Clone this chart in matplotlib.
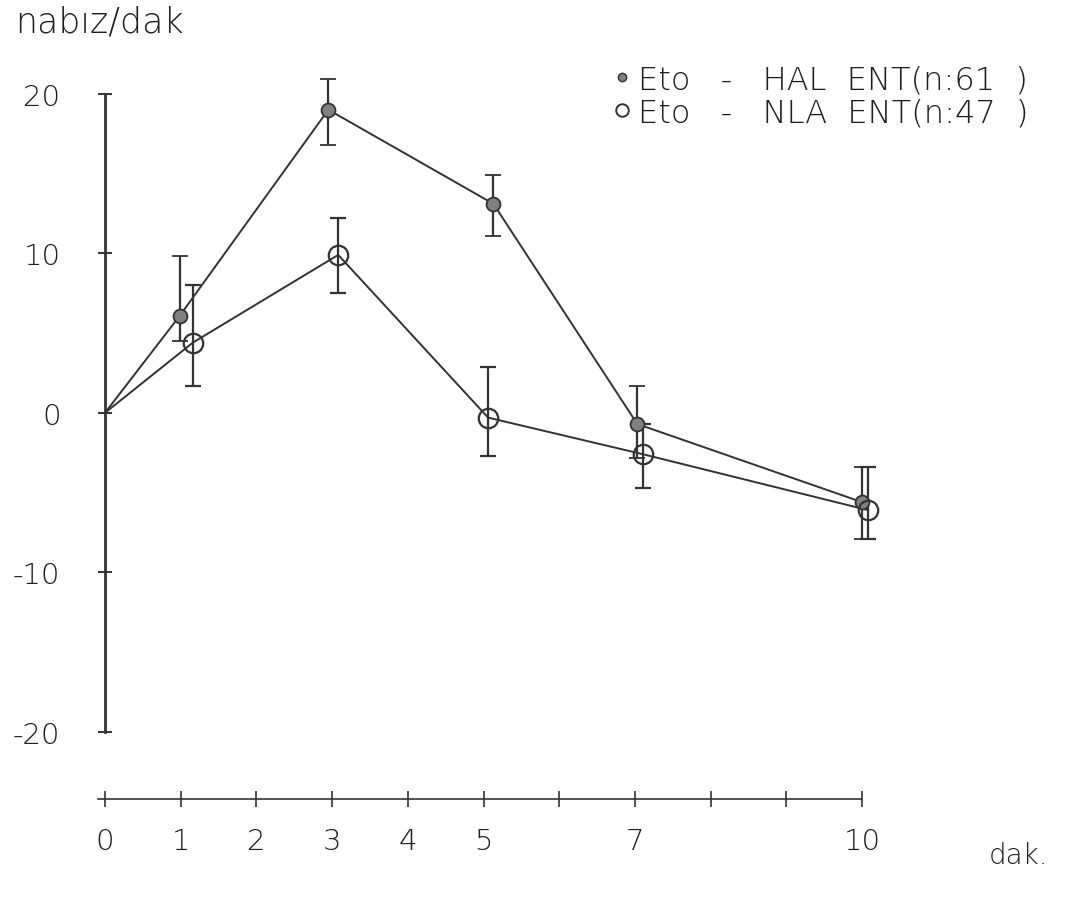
import matplotlib
matplotlib.use("Agg")
import matplotlib.pyplot as plt
from matplotlib.lines import Line2D

# ---- data ----
hal_x = [0, 0.99, 2.95, 5.13, 7.03, 10.0]
hal_y = [0, 6.1, 19.0, 13.1, -0.7, -5.6]
hal_err_low = [0, 1.6, 2.2, 2.0, 2.1, 2.3]
hal_err_high = [0, 3.7, 1.9, 1.8, 2.4, 2.2]

nla_x = [0, 1.16, 3.08, 5.06, 7.11, 10.08]
nla_y = [0, 4.4, 9.9, -0.3, -2.6, -6.1]
nla_err_low = [0, 2.7, 2.4, 2.4, 2.1, 1.8]
nla_err_high = [0, 3.6, 2.3, 3.2, 1.9, 2.7]

x_major_ticks = [0, 1, 2, 3, 4, 5, 7, 10]
x_minor_ticks = [6, 8, 9]
y_ticks = [-20, -10, 0, 10, 20]

hal_label = "Eto   -   HAL  ENT(n:61  )"
nla_label = "Eto   -   NLA  ENT(n:47  )"
y_title = "nabız/dak"
x_title = "dak."

# ---- styling ----
ink = "#333333"
txt = "#1e1e1e"
plt.rcParams["font.family"] = ["DejaVu Sans"]
W = "light"

fig = plt.figure(figsize=(10.65, 9.04), dpi=100)
ax = fig.add_axes([0.0845, 0.104, 0.7606, 0.830])
ax.set_xlim(-0.198, 10.50)
ax.set_ylim(-24.83, 22.2)

ax.plot(hal_x, hal_y, color=ink, lw=1.4, zorder=2)
ax.plot(nla_x, nla_y, color=ink, lw=1.4, zorder=2)
ax.errorbar(hal_x[1:], hal_y[1:], yerr=[hal_err_low[1:], hal_err_high[1:]],
            fmt="o", ms=10, mfc="#808080", mec=ink, mew=1.3,
            ecolor=ink, elinewidth=1.6, capsize=6, capthick=1.6, zorder=3)
ax.errorbar(nla_x[1:], nla_y[1:], yerr=[nla_err_low[1:], nla_err_high[1:]],
            fmt="o", ms=14, mfc="none", mec=ink, mew=1.6,
            ecolor=ink, elinewidth=1.6, capsize=6, capthick=1.6, zorder=3)

# spines
for s in ["top", "right"]:
    ax.spines[s].set_visible(False)
ax.spines["left"].set_bounds(-20, 20)
ax.spines["left"].set_position(("data", 0))
ax.spines["left"].set_linewidth(2.0)
ax.spines["left"].set_color(ink)
ax.spines["bottom"].set_bounds(-0.09, 10.0)
ax.spines["bottom"].set_position(("data", -24.2))
ax.spines["bottom"].set_linewidth(1.2)
ax.spines["bottom"].set_color(ink)

ax.set_yticks(y_ticks)
ax.set_yticklabels([str(v) for v in y_ticks])
ax.tick_params(axis="y", direction="inout", length=10, width=1.4, color=ink,
               pad=27, labelsize=21, labelcolor=txt)
ax.set_xticks(x_major_ticks)
ax.set_xticklabels([str(v) for v in x_major_ticks])
ax.set_xticks(x_minor_ticks, minor=True)
ax.tick_params(axis="x", which="both", direction="inout", length=12, width=1.2,
               color=ink, pad=14, labelsize=21, labelcolor=txt)

for lab in ax.get_xticklabels() + ax.get_yticklabels():
    lab.set_fontweight(W)

fig.text(0.014, 0.975, y_title, fontsize=25, color=txt, va="center",
         ha="left", fontweight=W)
fig.text(0.928, 0.053, x_title, fontsize=20, color=txt, va="center",
         ha="left", fontweight=W)

handles = [
    Line2D([], [], ls="none", marker="o", ms=6, mfc="#808080", mec=ink, mew=1.0),
    Line2D([], [], ls="none", marker="o", ms=9, mfc="none", mec=ink, mew=1.4),
]
leg = fig.legend(handles, [hal_label, nla_label], loc="upper right",
                 bbox_to_anchor=(0.978, 0.942), frameon=False, fontsize=23,
                 handlelength=0.6, handletextpad=0.2, labelspacing=0.1,
                 borderaxespad=0)
for t in leg.get_texts():
    t.set_color(txt)
    t.set_fontweight(W)

fig.savefig("out.png", dpi=100)
